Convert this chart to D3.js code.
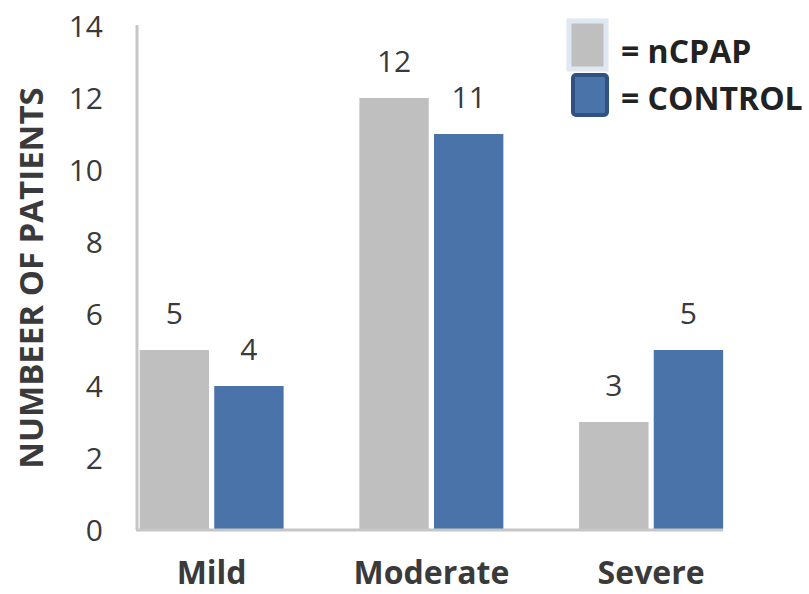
<!DOCTYPE html>
<html>
<head>
<meta charset="utf-8">
<script src="https://cdn.jsdelivr.net/npm/d3@7"></script>
<style>
  html, body { margin: 0; padding: 0; background: #fff; }
  svg { display: block; font-family: "Open Sans", "Liberation Sans", sans-serif; }
</style>
</head>
<body>
<svg id="chart" width="809" height="594"></svg>
<script>
// Severity categories and patient counts per group
const categories = ["Mild", "Moderate", "Severe"];
const seriesNames = ["nCPAP", "CONTROL"];
const ncpapValues = [5, 12, 3];
const controlValues = [4, 11, 5];
const yTicks = [0, 2, 4, 6, 8, 10, 12, 14];

const colors = { nCPAP: "#bfbfbf", CONTROL: "#4a74a9" };
const textColor = "#3a3a3a";

const rows = categories.map((c, i) => ({
  category: c,
  values: [
    { series: "nCPAP", value: ncpapValues[i] },
    { series: "CONTROL", value: controlValues[i] }
  ]
}));

const svg = d3.select("#chart");

const x0 = d3.scaleBand().domain(categories).range([101.75, 761]).paddingInner(0).paddingOuter(0);
const x1 = d3.scaleBand().domain(seriesNames).range([0, 144]).paddingInner(0.07);
const y = d3.scaleLinear().domain([0, 14]).range([530, 26]);

// Y axis: tick labels only, plus a plain vertical line
const yAxis = d3.axisLeft(y).tickValues(yTicks).tickSize(0).tickPadding(0);
const gy = svg.append("g").attr("transform", "translate(103,0)").call(yAxis);
gy.select(".domain").remove();
gy.selectAll("text")
  .attr("fill", textColor)
  .attr("font-size", 30)
  .attr("dy", "0.36em")
  .style("font-family", "'Open Sans', sans-serif");

svg.append("line")
  .attr("x1", 137).attr("x2", 137)
  .attr("y1", y(14) - 1).attr("y2", y(0))
  .attr("stroke", "#c6c6c6").attr("stroke-width", 3);

// Bars
const groups = svg.append("g").selectAll("g")
  .data(rows).join("g")
  .attr("transform", d => `translate(${x0(d.category) + x0.bandwidth() / 2 - 72},0)`);

groups.selectAll("rect")
  .data(d => d.values).join("rect")
  .attr("x", d => x1(d.series))
  .attr("width", x1.bandwidth())
  .attr("y", d => y(d.value))
  .attr("height", d => y(0) - y(d.value))
  .attr("fill", d => colors[d.series]);

// Value labels above bars
groups.selectAll("text")
  .data(d => d.values).join("text")
  .attr("x", d => x1(d.series) + x1.bandwidth() / 2)
  .attr("y", d => y(d.value) - 26)
  .attr("text-anchor", "middle")
  .attr("fill", textColor)
  .attr("font-size", 30)
  .text(d => d.value);

// Category axis labels
const xAxis = d3.axisBottom(x0).tickSize(0).tickPadding(0);
const gx = svg.append("g").attr("transform", `translate(0,${y(0)})`).call(xAxis);
gx.select(".domain").remove();
gx.selectAll("text")
  .attr("y", 54)
  .attr("dy", 0)
  .attr("fill", textColor)
  .attr("font-size", 32)
  .attr("font-weight", "bold")
  .style("font-family", "'Open Sans', sans-serif");

// Baseline
svg.append("line")
  .attr("x1", 136).attr("x2", 723)
  .attr("y1", y(0)).attr("y2", y(0))
  .attr("stroke", "#c6c6c6").attr("stroke-width", 3);

// Y axis title
svg.append("text")
  .attr("transform", `translate(43,${(y(0) + y(14)) / 2}) rotate(-90)`)
  .attr("text-anchor", "middle")
  .attr("fill", textColor)
  .attr("font-size", 33)
  .attr("font-weight", "bold")
  .text("NUMBEER OF PATIENTS");

// Legend
const legend = svg.append("g");
legend.append("rect")
  .attr("x", 569).attr("y", 21).attr("width", 37).attr("height", 48)
  .attr("fill", colors.nCPAP).attr("stroke", "#dfe7f0").attr("stroke-width", 5);
legend.append("rect")
  .attr("x", 573).attr("y", 75).attr("width", 34).attr("height", 40)
  .attr("rx", 3)
  .attr("fill", colors.CONTROL).attr("stroke", "#2f5283").attr("stroke-width", 4);
legend.append("text")
  .attr("x", 621).attr("y", 63)
  .attr("fill", "#222").attr("font-size", 32).attr("font-weight", "bold")
  .text("= nCPAP");
legend.append("text")
  .attr("x", 621).attr("y", 110)
  .attr("fill", "#222").attr("font-size", 32).attr("font-weight", "bold")
  .text("= CONTROL");
</script>
</body>
</html>
